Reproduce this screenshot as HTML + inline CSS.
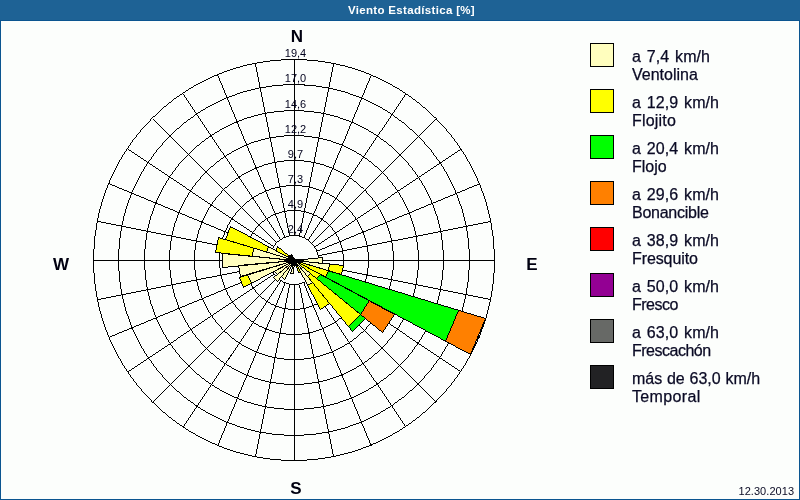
<!DOCTYPE html>
<html><head><meta charset="utf-8"><title>Viento Estadística</title>
<style>
html,body{margin:0;padding:0;}
body{width:800px;height:500px;position:relative;overflow:hidden;background:#FCFEFC;font-family:"Liberation Sans",sans-serif;color:#0a0a24;}
#frame{position:absolute;left:0;top:0;width:798px;height:498px;border:1px solid #0B5590;border-top:none;height:499px;}
#hdr{position:absolute;left:0;top:0;width:800px;height:20px;background:#1E6295;border-bottom:1px solid #0B5590;}
#title{position:absolute;left:211.5px;top:2.5px;width:400px;text-align:center;color:#fff;font-weight:bold;font-size:11.5px;line-height:14px;white-space:nowrap;letter-spacing:0.32px;}
.card{position:absolute;font-weight:bold;font-size:17px;line-height:16px;width:40px;text-align:center;color:#000010;}
.rl{position:absolute;left:275px;width:41px;text-align:center;font-size:11px;line-height:13px;color:#00001c;}
.lb{position:absolute;left:590px;width:22px;height:22px;border:1px solid #000;}
.lt{position:absolute;left:632px;font-size:16px;line-height:18px;white-space:nowrap;-webkit-text-stroke:0.25px #0a0a24;}
.l1{word-spacing:1.2px;letter-spacing:0.1px;}
#date{position:absolute;left:738.5px;top:485px;font-size:11px;line-height:13px;letter-spacing:0.05px;white-space:nowrap;}
</style></head><body>
<div id="frame"></div>
<div id="hdr"></div>
<div id="title">Viento Estadística [%]</div>
<svg width="800" height="500" viewBox="0 0 800 500" style="position:absolute;left:0;top:0" shape-rendering="crispEdges">
<path fill="#000" d="M276.68 242.18A24.5 24.5 0 0 1 311.32 242.18v1A24.5 24.5 0 0 0 276.68 243.18zM276.68 276.82A24.5 24.5 0 0 0 311.32 276.82v1A24.5 24.5 0 0 1 276.68 277.82zM277.18 242.68A24.5 24.5 0 0 0 277.18 277.32h-1A24.5 24.5 0 0 1 276.18 242.68zM311.82 242.68A24.5 24.5 0 0 1 311.82 277.32h-1A24.5 24.5 0 0 0 310.82 242.68zM259.00 224.50A49.5 49.5 0 0 1 329.00 224.50v1A49.5 49.5 0 0 0 259.00 225.50zM259.00 294.50A49.5 49.5 0 0 0 329.00 294.50v1A49.5 49.5 0 0 1 259.00 295.50zM259.50 225.00A49.5 49.5 0 0 0 259.50 295.00h-1A49.5 49.5 0 0 1 258.50 225.00zM329.50 225.00A49.5 49.5 0 0 1 329.50 295.00h-1A49.5 49.5 0 0 0 328.50 225.00zM241.32 206.82A74.5 74.5 0 0 1 346.68 206.82v1A74.5 74.5 0 0 0 241.32 207.82zM241.32 312.18A74.5 74.5 0 0 0 346.68 312.18v1A74.5 74.5 0 0 1 241.32 313.18zM241.82 207.32A74.5 74.5 0 0 0 241.82 312.68h-1A74.5 74.5 0 0 1 240.82 207.32zM347.18 207.32A74.5 74.5 0 0 1 347.18 312.68h-1A74.5 74.5 0 0 0 346.18 207.32zM223.64 189.14A99.5 99.5 0 0 1 364.36 189.14v1A99.5 99.5 0 0 0 223.64 190.14zM223.64 329.86A99.5 99.5 0 0 0 364.36 329.86v1A99.5 99.5 0 0 1 223.64 330.86zM224.14 189.64A99.5 99.5 0 0 0 224.14 330.36h-1A99.5 99.5 0 0 1 223.14 189.64zM364.86 189.64A99.5 99.5 0 0 1 364.86 330.36h-1A99.5 99.5 0 0 0 363.86 189.64zM205.97 171.47A124.5 124.5 0 0 1 382.03 171.47v1A124.5 124.5 0 0 0 205.97 172.47zM205.97 347.53A124.5 124.5 0 0 0 382.03 347.53v1A124.5 124.5 0 0 1 205.97 348.53zM206.47 171.97A124.5 124.5 0 0 0 206.47 348.03h-1A124.5 124.5 0 0 1 205.47 171.97zM382.53 171.97A124.5 124.5 0 0 1 382.53 348.03h-1A124.5 124.5 0 0 0 381.53 171.97zM188.29 153.79A149.5 149.5 0 0 1 399.71 153.79v1A149.5 149.5 0 0 0 188.29 154.79zM188.29 365.21A149.5 149.5 0 0 0 399.71 365.21v1A149.5 149.5 0 0 1 188.29 366.21zM188.79 154.29A149.5 149.5 0 0 0 188.79 365.71h-1A149.5 149.5 0 0 1 187.79 154.29zM400.21 154.29A149.5 149.5 0 0 1 400.21 365.71h-1A149.5 149.5 0 0 0 399.21 154.29zM169.90 135.40A175.5 175.5 0 0 1 418.10 135.40v1A175.5 175.5 0 0 0 169.90 136.40zM169.90 383.60A175.5 175.5 0 0 0 418.10 383.60v1A175.5 175.5 0 0 1 169.90 384.60zM170.40 135.90A175.5 175.5 0 0 0 170.40 384.10h-1A175.5 175.5 0 0 1 169.40 135.90zM418.60 135.90A175.5 175.5 0 0 1 418.60 384.10h-1A175.5 175.5 0 0 0 417.60 135.90zM152.23 117.73A200.5 200.5 0 0 1 435.77 117.73v1A200.5 200.5 0 0 0 152.23 118.73zM152.23 401.27A200.5 200.5 0 0 0 435.77 401.27v1A200.5 200.5 0 0 1 152.23 402.27zM152.73 118.23A200.5 200.5 0 0 0 152.73 401.77h-1A200.5 200.5 0 0 1 151.73 118.23zM436.27 118.23A200.5 200.5 0 0 1 436.27 401.77h-1A200.5 200.5 0 0 0 435.27 118.23z"/>
<path fill="#000" d="M295.00 60.00L295.00 236.00h-1L294.00 60.00zM334.12 63.84L299.78 236.48h-1L333.12 63.84zM371.74 75.22L304.36 237.90h-1L370.74 75.22zM406.45 93.71L308.56 240.21h-1L405.45 93.71zM311.68 242.82L436.42 118.08v1L311.68 243.82zM314.79 246.44L461.29 148.55v1L314.79 247.44zM317.10 250.64L479.78 183.26v1L317.10 251.64zM318.52 255.22L491.16 220.88v1L318.52 256.22zM319.00 260.00L495.00 260.00v1L319.00 261.00zM318.52 264.78L491.16 299.12v1L318.52 265.78zM317.10 269.36L479.78 336.74v1L317.10 270.36zM314.79 273.56L461.29 371.45v1L314.79 274.56zM312.18 277.68L436.92 402.42h-1L311.18 277.68zM308.56 280.79L406.45 427.29h-1L307.56 280.79zM304.36 283.10L371.74 445.78h-1L303.36 283.10zM299.78 284.52L334.12 457.16h-1L298.78 284.52zM295.00 285.00L295.00 461.00h-1L294.00 285.00zM290.22 284.52L255.88 457.16h-1L289.22 284.52zM285.64 283.10L218.26 445.78h-1L284.64 283.10zM281.44 280.79L183.55 427.29h-1L280.44 280.79zM152.58 401.92L277.32 277.18v1L152.58 402.92zM127.71 371.45L274.21 273.56v1L127.71 372.45zM109.22 336.74L271.90 269.36v1L109.22 337.74zM97.84 299.12L270.48 264.78v1L97.84 300.12zM94.00 260.00L270.00 260.00v1L94.00 261.00zM97.84 220.88L270.48 255.22v1L97.84 221.88zM109.22 183.26L271.90 250.64v1L109.22 184.26zM127.71 148.55L274.21 246.44v1L127.71 149.55zM152.58 118.08L277.32 242.82v1L152.58 119.08zM183.55 93.71L281.44 240.21h-1L182.55 93.71zM218.26 75.22L285.64 237.90h-1L217.26 75.22zM255.88 63.84L290.22 236.48h-1L254.88 63.84z"/>
<g><polygon fill="#FFFEBE" points="294.5,260.5 322.5,257.5 322.5,263.5"/>
<polygon fill="#FFFEBE" points="294.5,260.5 329.5,263.5 328.5,270.5"/>
<polygon fill="#FFFF00" points="329.5,263.5 343.5,265.5 341.5,274.5 328.5,270.5"/>
<polygon fill="#FFFEBE" points="294.5,260.5 298.5,261.5 298.5,262.5"/>
<polygon fill="#FFFF00" points="298.5,261.5 328.5,270.5 325.5,277.5 298.5,262.5"/>
<polygon fill="#00FF00" points="328.5,270.5 458.5,310.5 445.5,341.5 325.5,277.5"/>
<polygon fill="#FF8000" points="458.5,310.5 485.5,318.5 470.5,354.5 445.5,341.5"/>
<polygon fill="#FFFEBE" points="294.5,260.5 297.5,261.5 296.5,262.5"/>
<polygon fill="#FFFF00" points="297.5,261.5 320.5,274.5 316.5,278.5 296.5,262.5"/>
<polygon fill="#00FF00" points="320.5,274.5 369.5,300.5 360.5,314.5 316.5,278.5"/>
<polygon fill="#FF8000" points="369.5,300.5 394.5,314.5 382.5,332.5 360.5,314.5"/>
<polygon fill="#FFFEBE" points="294.5,260.5 310.5,273.5 307.5,276.5"/>
<polygon fill="#FFFF00" points="310.5,273.5 360.5,314.5 348.5,326.5 307.5,276.5"/>
<polygon fill="#00FF00" points="360.5,314.5 365.5,318.5 352.5,331.5 348.5,326.5"/>
<polygon fill="#FFFEBE" points="294.5,260.5 312.5,282.5 307.5,285.5"/>
<polygon fill="#FFFF00" points="312.5,282.5 329.5,303.5 320.5,309.5 307.5,285.5"/>
<polygon fill="#FFFEBE" points="294.5,260.5 295.5,263.5 295.5,263.5"/>
<polygon fill="#FFFF00" points="295.5,263.5 300.5,272.5 298.5,272.5 295.5,263.5"/>
<polygon fill="#FFFEBE" points="294.5,260.5 293.5,273.5 290.5,273.5"/>
<polygon fill="#FFFEBE" points="294.5,260.5 284.5,279.5 281.5,276.5"/>
<polygon fill="#FFFEBE" points="294.5,260.5 277.5,281.5 273.5,277.5"/>
<polygon fill="#FFFEBE" points="294.5,260.5 277.5,274.5 274.5,271.5"/>
<polygon fill="#FFFEBE" points="294.5,260.5 251.5,283.5 247.5,274.5"/>
<polygon fill="#FFFF00" points="251.5,283.5 243.5,287.5 239.5,277.5 247.5,274.5"/>
<polygon fill="#FFFEBE" points="294.5,260.5 240.5,276.5 238.5,265.5"/>
<polygon fill="#FFFEBE" points="294.5,260.5 222.5,267.5 222.5,253.5"/>
<polygon fill="#FFFEBE" points="294.5,260.5 252.5,256.5 253.5,248.5"/>
<polygon fill="#FFFF00" points="252.5,256.5 215.5,252.5 218.5,237.5 253.5,248.5"/>
<polygon fill="#FFFEBE" points="294.5,260.5 266.5,252.5 268.5,246.5"/>
<polygon fill="#FFFF00" points="266.5,252.5 225.5,239.5 230.5,226.5 268.5,246.5"/>
<polygon fill="#FFFEBE" points="294.5,260.5 291.5,259.5 292.5,258.5"/>
<polygon fill="#FFFF00" points="291.5,259.5 275.5,250.5 277.5,246.5 292.5,258.5"/>
<polygon fill="#FFFEBE" points="294.5,260.5 290.5,255.5 291.5,254.5"/></g>
<path fill="#000" d="M323.00 257.00L323.00 264.00h-1L322.00 257.00zM294.00 260.05L323.00 256.95v1L294.00 261.05zM294.00 259.95L323.00 263.05v1L294.00 260.95zM330.07 263.00L328.93 271.00h-1L329.07 263.00zM344.11 265.00L341.89 275.00h-1L343.11 265.00zM294.00 259.95L344.00 265.05v1L294.00 260.95zM294.00 259.85L342.00 274.15v1L294.00 260.85zM299.00 261.00L299.00 263.00h-1L298.00 261.00zM329.21 270.00L325.79 278.00h-1L328.21 270.00zM459.21 310.00L445.79 342.00h-1L458.21 310.00zM486.21 318.00L470.79 355.00h-1L485.21 318.00zM294.00 259.85L486.00 318.15v1L294.00 260.85zM294.00 259.73L471.00 354.27v1L294.00 260.73zM296.00 262.50L298.00 260.50v1L296.00 263.50zM316.00 278.50L321.00 273.50v1L316.00 279.50zM370.32 300.00L360.68 315.00h-1L369.32 300.00zM395.33 314.00L382.67 333.00h-1L394.33 314.00zM294.00 259.73L395.00 314.27v1L294.00 260.73zM294.00 259.59L383.00 332.41v1L294.00 260.59zM307.00 276.50L311.00 272.50v1L307.00 277.50zM348.00 326.50L361.00 313.50v1L348.00 327.50zM352.00 331.50L366.00 317.50v1L352.00 332.50zM294.00 259.59L366.00 318.41v1L294.00 260.59zM294.59 260.00L353.41 332.00h-1L293.59 260.00zM307.00 285.30L313.00 281.70v1L307.00 286.30zM320.00 309.33L330.00 302.67v1L320.00 310.33zM294.59 260.00L330.41 304.00h-1L293.59 260.00zM294.73 260.00L321.27 310.00h-1L293.73 260.00zM298.00 272.00L301.00 272.00v1L298.00 273.00zM294.75 260.00L301.25 273.00h-1L293.75 260.00zM294.83 260.00L299.17 273.00h-1L293.83 260.00zM290.00 273.00L294.00 273.00v1L290.00 274.00zM295.04 260.00L293.96 274.00h-1L294.04 260.00zM295.15 260.00L290.85 274.00h-1L294.15 260.00zM281.00 275.50L285.00 279.50v1L281.00 276.50zM295.26 260.00L284.74 280.00h-1L294.26 260.00zM295.41 260.00L281.59 277.00h-1L294.41 260.00zM273.00 276.50L278.00 281.50v1L273.00 277.50zM295.40 260.00L277.60 282.00h-1L294.40 260.00zM273.00 277.40L295.00 259.60v1L273.00 278.40zM274.00 270.50L278.00 274.50v1L274.00 271.50zM277.00 274.41L295.00 259.59v1L277.00 275.41zM274.00 271.27L295.00 259.73v1L274.00 272.27zM247.78 274.00L252.22 284.00h-1L246.78 274.00zM239.80 277.00L244.20 288.00h-1L238.80 277.00zM243.00 287.26L295.00 259.74v1L243.00 288.26zM239.00 277.15L295.00 259.85v1L239.00 278.15zM238.91 265.00L241.09 277.00h-1L237.91 265.00zM240.00 276.15L295.00 259.85v1L240.00 277.15zM238.00 265.04L295.00 259.96v1L238.00 266.04zM223.00 253.00L223.00 268.00h-1L222.00 253.00zM222.00 267.05L295.00 259.95v1L222.00 268.05zM222.00 252.95L295.00 260.05v1L222.00 253.95zM254.06 248.00L252.94 257.00h-1L253.06 248.00zM219.10 237.00L215.90 253.00h-1L218.10 237.00zM215.00 251.95L295.00 260.05v1L215.00 252.95zM218.00 236.85L295.00 260.15v1L218.00 237.85zM269.17 246.00L266.83 253.00h-1L268.17 246.00zM231.19 226.00L225.81 240.00h-1L230.19 226.00zM225.00 238.85L295.00 260.15v1L225.00 239.85zM230.00 225.73L295.00 260.27v1L230.00 226.73zM291.00 259.50L293.00 257.50v1L291.00 260.50zM278.25 246.00L275.75 251.00h-1L277.25 246.00zM275.00 249.74L295.00 260.26v1L275.00 250.74zM277.00 245.59L295.00 260.41v1L277.00 246.59zM290.00 255.50L292.00 253.50v1L290.00 256.50zM290.60 255.00L295.40 261.00h-1L289.60 255.00zM291.75 254.00L295.25 261.00h-1L290.75 254.00zM284 259h20v2h-20zM288 261h13v1h-13zM289 255h3v1h-3zM288 256h5v1h-5zM288 257h6v1h-6zM287 258h8v1h-8zM291 262h6v4h-6z"/>
</svg>
<div class="card" style="left:277px;top:29px">N</div>
<div class="card" style="left:276px;top:481px">S</div>
<div class="card" style="left:41px;top:257px">W</div>
<div class="card" style="left:512px;top:257px">E</div>
<div class="rl" style="top:223px">2,4</div>
<div class="rl" style="top:198px">4,9</div>
<div class="rl" style="top:173px">7,3</div>
<div class="rl" style="top:148px">9,7</div>
<div class="rl" style="top:123px">12,2</div>
<div class="rl" style="top:98px">14,6</div>
<div class="rl" style="top:72px">17,0</div>
<div class="rl" style="top:47px">19,4</div>
<div class="lb" style="top:43px;background:#FFFEBE"></div>
<div class="lt" style="top:48px"><span class="l1">a 7,4 km/h</span><br><span style="letter-spacing:0px">Ventolina</span></div>
<div class="lb" style="top:89px;background:#FFFF00"></div>
<div class="lt" style="top:94px"><span class="l1">a 12,9 km/h</span><br><span style="letter-spacing:0.2px">Flojito</span></div>
<div class="lb" style="top:135px;background:#00FF00"></div>
<div class="lt" style="top:140px"><span class="l1">a 20,4 km/h</span><br><span style="letter-spacing:0px">Flojo</span></div>
<div class="lb" style="top:181px;background:#FF8000"></div>
<div class="lt" style="top:186px"><span class="l1">a 29,6 km/h</span><br><span style="letter-spacing:-0.25px">Bonancible</span></div>
<div class="lb" style="top:227px;background:#FF0000"></div>
<div class="lt" style="top:232px"><span class="l1">a 38,9 km/h</span><br><span style="letter-spacing:-0.1px">Fresquito</span></div>
<div class="lb" style="top:273px;background:#930093"></div>
<div class="lt" style="top:278px"><span class="l1">a 50,0 km/h</span><br><span style="letter-spacing:-0.5px">Fresco</span></div>
<div class="lb" style="top:319px;background:#676966"></div>
<div class="lt" style="top:324px"><span class="l1">a 63,0 km/h</span><br><span style="letter-spacing:-0.5px">Frescachón</span></div>
<div class="lb" style="top:365px;background:#222224"></div>
<div class="lt" style="top:370px"><span class="l1" style="word-spacing:0.3px;letter-spacing:0">más de 63,0 km/h</span><br><span style="letter-spacing:0.35px">Temporal</span></div>
<div id="date">12.30.2013</div>
</body></html>
